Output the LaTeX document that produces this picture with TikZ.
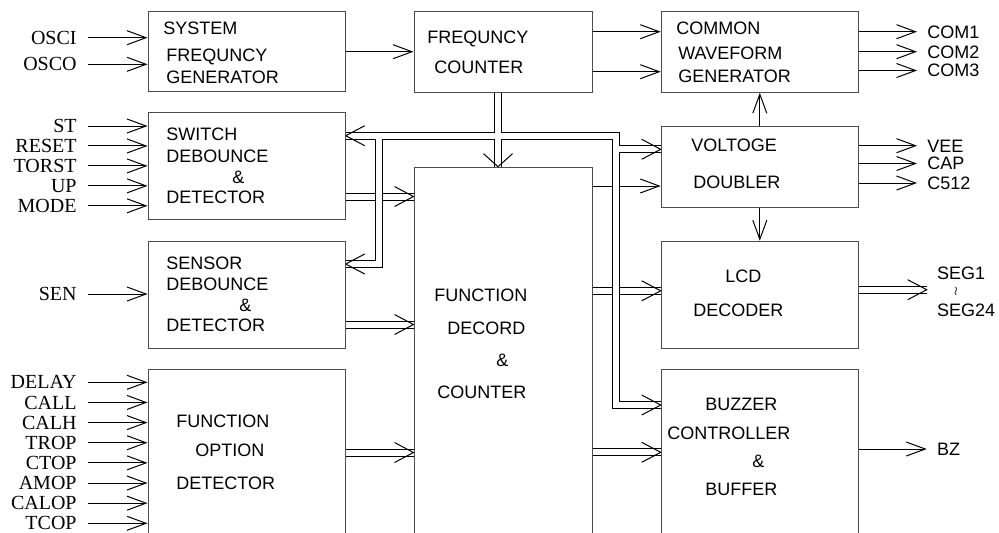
\documentclass[tikz,border=0pt]{standalone}
\usepackage{fontspec}
\setmainfont{Liberation Sans}
\newfontfamily\pinfont{Liberation Serif}
\usetikzlibrary{arrows.meta,backgrounds}

\tikzset{
  blk/.style={draw=black!70, line width=0.6pt, anchor=north west, inner sep=0pt},
  txt/.style={anchor=west, inner sep=0pt, text height=6.4pt, text depth=0pt,
    font=\fontsize{9}{10}\selectfont},
  pinL/.style={anchor=east, inner ysep=0pt, inner xsep=5.5pt, text height=6.6pt,
    text depth=0pt, font=\pinfont\fontsize{10}{11}\selectfont},
  pinR/.style={anchor=west, inner ysep=0pt, inner xsep=5pt, text height=6.4pt,
    text depth=0pt, font=\fontsize{9}{10}\selectfont},
  sig/.style={line width=0.5pt, -{Straight Barb[length=9.5pt,width=7pt]}},
  bus/.style={double, double distance=3pt, line width=0.5pt},
  busTip/.pic={\draw[line width=0.5pt] (-19,-10) -- (0,0) -- (-19,10);},
  busTipWide/.pic={\draw[line width=0.5pt] (-13,-14.5) -- (0,0) -- (-13,14.5);}
}

\begin{document}
\begin{tikzpicture}[x=0.5pt,y=-0.5pt]
  \useasboundingbox (0,0) rectangle (999,532);
  \clip (0,0) rectangle (999,532);

  % the blocks
  \node[blk, minimum width=98.5pt, minimum height=40pt]   (sfg) at (147.5,11) {};
  \node[blk, minimum width=98.5pt, minimum height=53.5pt] (sdd) at (147.5,112) {};
  \node[blk, minimum width=98.5pt, minimum height=53.5pt] (ndd) at (147.5,240.7) {};
  \node[blk, minimum width=98.5pt, minimum height=100pt]  (fod) at (147.5,369) {};
  \node[blk, minimum width=89pt, minimum height=40.3pt]   (fcn) at (413.5,11) {};
  \node[blk, minimum width=89pt, minimum height=190pt]    (fdc) at (413.5,166.7) {};
  \node[blk, minimum width=98.5pt, minimum height=40.3pt] (cwg) at (660.7,11) {};
  \node[blk, minimum width=98.5pt, minimum height=40.5pt] (vdb) at (660.7,125.7) {};
  \node[blk, minimum width=98.5pt, minimum height=53.5pt] (lcd) at (660.7,240.7) {};
  \node[blk, minimum width=98.5pt, minimum height=100pt]  (bzc) at (660.7,369) {};

  % the block texts
  \foreach \word/\wx/\wy [count=\ni] in {
      SYSTEM/163/28, FREQUNCY/166/55, GENERATOR/166/77,
      SWITCH/166/134, DEBOUNCE/166/156, \&/232/177, DETECTOR/166/197,
      SENSOR/166/263, DEBOUNCE/166/284, \&/239/305, DETECTOR/166/325,
      FUNCTION/176/421, OPTION/195/450, DETECTOR/176/483,
      FREQUNCY/427/37, COUNTER/434/67,
      FUNCTION/434/295, DECORD/447/328, \&/496/360, COUNTER/437/392,
      COMMON/676/28, WAVEFORM/678/53, GENERATOR/678/76,
      VOLTOGE/691/145.5, DOUBLER/693/182,
      LCD/725/276, DECODER/693/310,
      BUZZER/705/404, CONTROLLER/667/433, \&/752/461, BUFFER/705/489}
    \node[txt] (w\ni) at (\wx,\wy) {\word};

  % input pins
  \foreach \n/\py in {OSCI/37.7, OSCO/64.3}
  {
    \node[pinL] (\n) at (88,\py) {\n};
    \draw[sig] (\n.east) -- (\n.east -| sfg.west);
  }
  \foreach \n [count=\ni] in {ST,RESET,TORST,UP,MODE}
  {
    \pgfmathsetmacro\py{126+19.95*(\ni-1)}
    \node[pinL] (\n) at (88,\py) {\n};
    \draw[sig] (\n.east) -- (\n.east -| sdd.west);
  }
  \node[pinL] (SEN) at (88,294) {SEN};
  \draw[sig] (SEN.east) -- (SEN.east -| ndd.west);
  \foreach \n [count=\ni] in {DELAY,CALL,CALH,TROP,CTOP,AMOP,CALOP,TCOP}
  {
    \pgfmathsetmacro\py{382.3+20.14*(\ni-1)}
    \node[pinL] (\n) at (88,\py) {\n};
    \draw[sig] (\n.east) -- (\n.east -| fod.west);
  }

  % output pins
  \foreach \n/\py in {COM1/31.7, COM2/51.7, COM3/70.5}
  {
    \node[pinR] (\n) at (917,\py) {\n};
    \draw[sig] (\n.west -| cwg.east) -- (\n.west);
  }
  \foreach \n/\py in {VEE/145.7, CAP/163.5, C512/183}
  {
    \node[pinR] (\n) at (917,\py) {\n};
    \draw[sig] (\n.west -| vdb.east) -- (\n.west);
  }
  \node[pinR] (SEG1) at (926.7,273) {SEG1};
  \node[font=\fontsize{6}{7}\selectfont, inner sep=0pt] (segWave) at (956,291) {$\wr$};
  \node[pinR] (SEG24) at (926.7,310) {SEG24};
  \node[pinR] (BZ) at (926.7,449) {BZ};
  \draw[sig] (BZ.west -| bzc.east) -- (BZ.west);

  % single links between blocks
  \draw[sig] (sfg.east |- 0,51.7) -- (fcn.west |- 0,51.7);
  \foreach \py in {31.7,71.7}
    \draw[sig] (fcn.east |- 0,\py) -- (cwg.west |- 0,\py);
  \draw[sig] (vdb.north) -- (cwg.south);
  \draw[sig] (vdb.south) -- (lcd.north);

  \begin{scope}[on background layer]
    % double links into and out of the decoder
    \foreach \src/\py in {sdd/196.5, ndd/324.5, fod/452.5}
    {
      \draw[bus] (\src.east |- 0,\py) -- (fdc.west |- 0,\py);
      \pic at (fdc.west |- 0,\py) {busTip};
    }
    \foreach \dst/\py in {lcd/290.8, bzc/452.3}
    {
      \draw[bus] (fdc.east |- 0,\py) -- (\dst.west |- 0,\py);
      \pic at (\dst.west |- 0,\py) {busTip};
    }
    \draw[bus] (lcd.east |- 0,289.7) -- (SEG1.west |- 0,289.7);
    \pic at (SEG1.west |- 0,289.7) {busTip};
    \draw[sig] (fdc.east |- 0,186) -- (vdb.west |- 0,186);

    % the counter bus
    \coordinate (jT) at (498,135.7);
    \coordinate (jL) at (379.3,135.7);
    \coordinate (jR) at (616,135.7);
    \coordinate (jV) at (616,149.3);
    \draw[bus] (fcn.south -| jT) -- (fdc.north -| jT)
      (jT) -- (jT -| sdd.east)
      (jL) -- (jL |- 0,264) -- (ndd.east |- 0,264)
      (jT) -- (jR) -- (jV) -- (jV -| vdb.west)
      (jV) -- (jV |- 0,405) -- (bzc.west |- 0,405);
    \pic[rotate=-90] at (fdc.north -| jT) {busTipWide};
    \pic[rotate=180] at (sdd.east |- jT) {busTip};
    \pic[rotate=180] at (ndd.east |- 0,264) {busTip};
    \pic at (vdb.west |- jV) {busTip};
    \pic at (bzc.west |- 0,405) {busTip};
  \end{scope}
\end{tikzpicture}
\end{document}
